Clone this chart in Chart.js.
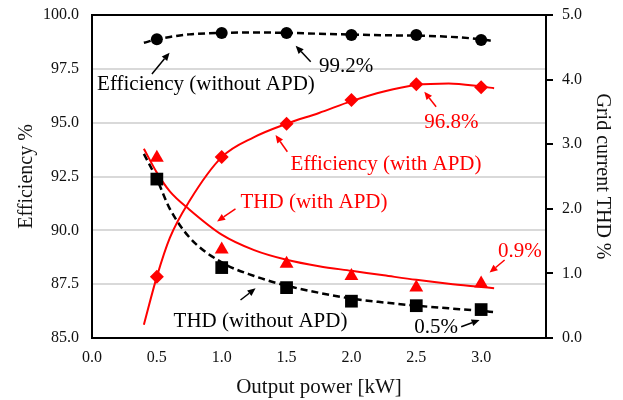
<!DOCTYPE html>
<html><head><meta charset="utf-8">
<script src="https://cdn.jsdelivr.net/npm/chart.js@4"></script>
<style>html,body{margin:0;padding:0;background:#fff}#wrap{width:623px;height:400px}</style>
</head><body><div id="wrap"><canvas id="c" width="623" height="400"></canvas></div>
<script>
// Measured points
const powerKW = [0.5, 1.0, 1.5, 2.0, 2.5, 3.0];
const effWithoutAPD = [98.87, 99.16, 99.16, 99.07, 99.07, 98.84];
const effWithAPD = [87.85, 93.4, 94.95, 96.05, 96.78, 96.65];
const thdWithAPD = [2.79, 1.37, 1.15, 0.96, 0.78, 0.845];
const thdWithoutAPD = [2.46, 1.09, 0.78, 0.57, 0.50, 0.44];

// Trend lines
const fitX = [0.4, 0.5, 0.6, 0.75, 1.0, 1.25, 1.5, 1.75, 2.0, 2.25, 2.5, 2.75, 3.0, 3.1];
const effWithoutAPDFit = [98.71, 98.87, 98.98, 99.10, 99.17, 99.19, 99.17, 99.13, 99.09, 99.06, 99.04, 98.99, 98.87, 98.78];
const effWithAPDFit = [85.62, 87.85, 89.65, 91.35, 93.4, 94.33, 94.95, 95.45, 96.0, 96.45, 96.75, 96.82, 96.68, 96.6];
const thdWithAPDFit = [2.93, 2.56, 2.27, 1.99, 1.60, 1.36, 1.21, 1.11, 1.04, 0.97, 0.90, 0.84, 0.79, 0.77];
const thdWithoutAPDFit = [2.85, 2.46, 2.0, 1.56, 1.17, 0.96, 0.81, 0.70, 0.61, 0.55, 0.50, 0.46, 0.42, 0.40];

// Tick settings
const xTicks = {min: 0, max: 3.5, step: 0.5};
const effTicks = {min: 85, max: 100, step: 2.5};
const thdTicks = {min: 0, max: 5, step: 1};

const labels = [
  {text: 'Efficiency (without APD)', color: '#000', axis: 'y', x: 0.039, y: 96.52, tail: [0.462, 97.26], head: [0.598, 98.25]},
  {text: '99.2%', color: '#000', axis: 'y', x: 1.750, y: 97.37, tail: [1.686, 97.83], head: [1.570, 98.57]},
  {text: '96.8%', color: '#ff0000', axis: 'y', x: 2.562, y: 94.74, tail: [2.653, 95.74], head: [2.562, 96.44]},
  {text: 'Efficiency (with APD)', color: '#ff0000', axis: 'y', x: 1.531, y: 92.78, tail: [1.506, 93.65], head: [1.415, 94.43]},
  {text: 'THD (with APD)', color: '#ff0000', axis: 'y2', x: 1.145, y: 2.008, tail: [1.106, 1.997], head: [0.964, 1.805]},
  {text: '0.9%', color: '#ff0000', axis: 'y2', x: 3.130, y: 1.259, tail: [3.181, 1.208], head: [3.065, 1.012]},
  {text: 'THD (without APD)', color: '#000', axis: 'y2', x: 0.629, y: 0.175, tail: [1.145, 0.588], head: [1.261, 0.769]},
  {text: '0.5%', color: '#000', axis: 'y2', x: 2.485, y: 0.073, tail: [2.846, 0.175], head: [2.988, 0.279]}
];

const SERIF = '"Liberation Serif", "Times New Roman", serif';
const RED = '#ff0000';
const pts = (xs, ys) => xs.map((x, i) => ({x: x, y: ys[i]}));

const boxPlugin = {
  id: 'box',
  beforeDatasetsDraw(chart) {
    const a = chart.chartArea, ctx = chart.ctx;
    ctx.save();
    ctx.strokeStyle = '#000';
    ctx.lineWidth = 2;
    ctx.strokeRect(a.left, a.top, a.right - a.left, a.bottom - a.top);
    ctx.restore();
  }
};

const annotPlugin = {
  id: 'annot',
  afterDatasetsDraw(chart) {
    const ctx = chart.ctx, xs = chart.scales.x;
    ctx.save();
    ctx.font = '21px ' + SERIF;
    ctx.textAlign = 'left';
    ctx.textBaseline = 'alphabetic';
    labels.forEach(a => {
      const ys = chart.scales[a.axis];
      ctx.fillStyle = a.color;
      ctx.strokeStyle = a.color;
      ctx.fillText(a.text, xs.getPixelForValue(a.x), ys.getPixelForValue(a.y));
      const tx = xs.getPixelForValue(a.tail[0]), ty = ys.getPixelForValue(a.tail[1]);
      const hx = xs.getPixelForValue(a.head[0]), hy = ys.getPixelForValue(a.head[1]);
      const ang = Math.atan2(hy - ty, hx - tx);
      const L = 8, W = 3.5;
      const bx = hx - L * Math.cos(ang), by = hy - L * Math.sin(ang);
      ctx.lineWidth = 1.5;
      ctx.beginPath(); ctx.moveTo(tx, ty); ctx.lineTo(bx, by); ctx.stroke();
      ctx.beginPath();
      ctx.moveTo(hx, hy);
      ctx.lineTo(bx - W * Math.sin(ang), by + W * Math.cos(ang));
      ctx.lineTo(bx + W * Math.sin(ang), by - W * Math.cos(ang));
      ctx.closePath(); ctx.fill();
    });
    ctx.restore();
  }
};

const fitStyle = (color, dashed) => ({
  showLine: true, pointRadius: 0, borderColor: color, borderWidth: dashed ? 2.5 : 2,
  borderDash: dashed ? [7, 4] : [], tension: 0.4, cubicInterpolationMode: 'monotone', order: 2
});

new Chart(document.getElementById('c'), {
  type: 'scatter',
  data: {
    datasets: [
      Object.assign({label: 'effWithoutFit', data: pts(fitX, effWithoutAPDFit), yAxisID: 'y'}, fitStyle('#000', true)),
      Object.assign({label: 'effWithFit', data: pts(fitX, effWithAPDFit), yAxisID: 'y'}, fitStyle(RED, false)),
      Object.assign({label: 'thdWithFit', data: pts(fitX, thdWithAPDFit), yAxisID: 'y2'}, fitStyle(RED, false)),
      Object.assign({label: 'thdWithoutFit', data: pts(fitX, thdWithoutAPDFit), yAxisID: 'y2'}, fitStyle('#000', true)),
      {label: 'Efficiency (without APD)', data: pts(powerKW, effWithoutAPD), yAxisID: 'y', pointStyle: 'circle', pointRadius: 6, backgroundColor: '#000', borderColor: '#000', borderWidth: 0, order: 0},
      {label: 'Efficiency (with APD)', data: pts(powerKW, effWithAPD), yAxisID: 'y', pointStyle: 'rectRot', pointRadius: 7, backgroundColor: RED, borderColor: RED, borderWidth: 0, order: 0},
      {label: 'THD (with APD)', data: pts(powerKW, thdWithAPD), yAxisID: 'y2', pointStyle: 'triangle', pointRadius: 8, backgroundColor: RED, borderColor: RED, borderWidth: 0, order: 0},
      {label: 'THD (without APD)', data: pts(powerKW, thdWithoutAPD), yAxisID: 'y2', pointStyle: 'rect', pointRadius: 9, backgroundColor: '#000', borderColor: '#000', borderWidth: 0, order: 0}
    ]
  },
  options: {
    responsive: false, animation: false, events: [],
    layout: {padding: {top: 15, left: 0, right: 0, bottom: 0}},
    plugins: {legend: {display: false}, tooltip: {enabled: false}},
    scales: {
      x: {
        type: 'linear', position: 'bottom', min: xTicks.min, max: xTicks.max,
        afterFit(s) { s.height = 62; s.paddingLeft = 0; s.paddingRight = 0; },
        ticks: {stepSize: xTicks.step, padding: 10, color: '#111', font: {family: SERIF, size: 16},
          callback: v => (v >= xTicks.max ? '' : Number(v).toFixed(1))},
        grid: {drawOnChartArea: false, drawTicks: false},
        border: {display: false},
        title: {display: true, text: 'Output power [kW]', color: '#111', font: {family: SERIF, size: 21}, padding: {top: 0, bottom: 0}}
      },
      y: {
        type: 'linear', position: 'left', min: effTicks.min, max: effTicks.max,
        afterFit(s) { s.width = 92; s.paddingTop = 0; s.paddingBottom = 0; },
        ticks: {stepSize: effTicks.step, padding: 13, color: '#111', font: {family: SERIF, size: 16},
          callback: v => Number(v).toFixed(1)},
        grid: {drawTicks: false, lineWidth: 2,
          color: c => (c.tick && (c.tick.value === effTicks.min || c.tick.value === effTicks.max)) ? 'rgba(0,0,0,0)' : '#d9d9d9'},
        border: {display: false},
        title: {display: true, text: 'Efficiency %', color: '#111', font: {family: SERIF, size: 20}, padding: {top: 15, bottom: 0}}
      },
      y2: {
        type: 'linear', position: 'right', min: thdTicks.min, max: thdTicks.max,
        afterFit(s) { s.width = 77; s.paddingTop = 0; s.paddingBottom = 0; },
        ticks: {stepSize: thdTicks.step, padding: 9, color: '#111', font: {family: SERIF, size: 16},
          callback: v => Number(v).toFixed(1)},
        grid: {drawOnChartArea: false, drawTicks: true, tickLength: 7, color: '#000', lineWidth: 2},
        border: {display: false},
        title: {display: true, text: 'Grid current THD %', color: '#111', font: {family: SERIF, size: 20}, padding: {top: 9, bottom: 0}}
      }
    }
  },
  plugins: [boxPlugin, annotPlugin]
});
</script>
</body></html>
